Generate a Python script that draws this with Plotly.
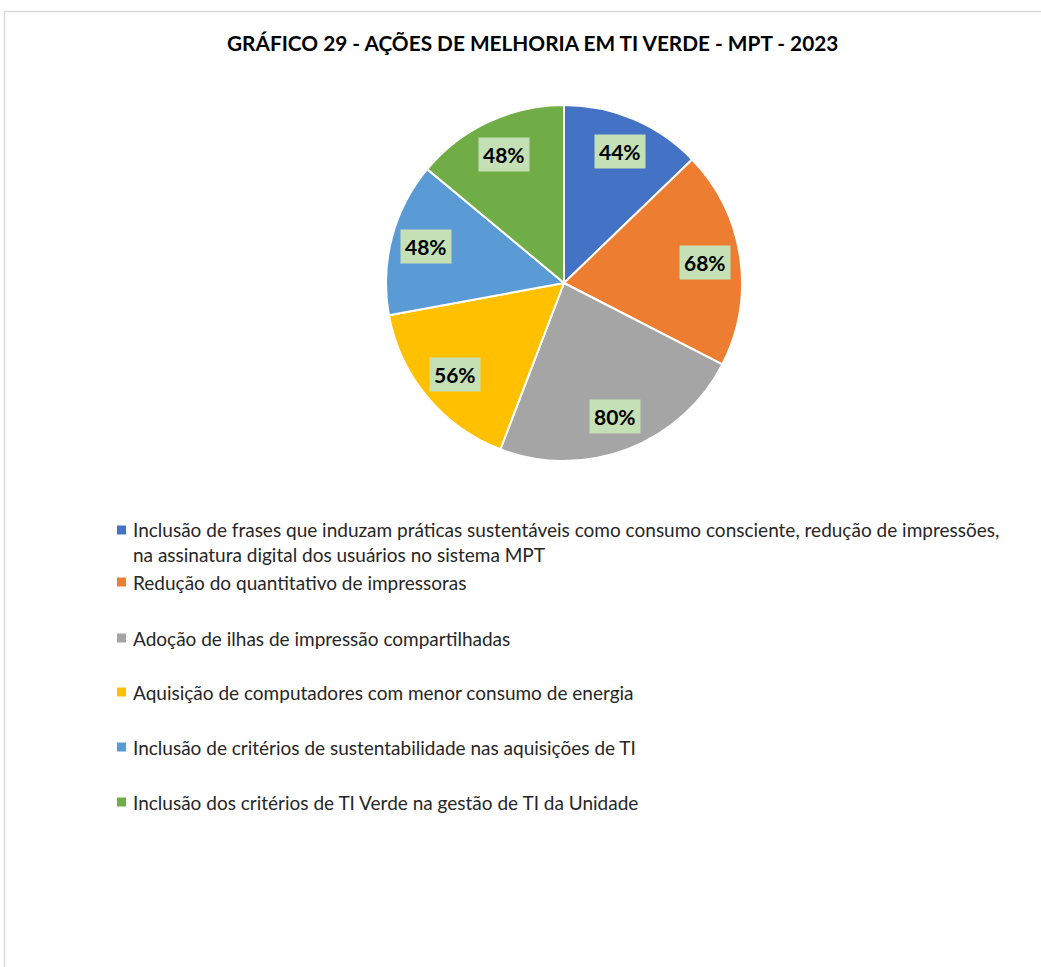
import math
import plotly.graph_objects as go

# Data
labels = [
    "Inclusão de frases que induzam práticas sustentáveis como consumo consciente, redução de impressões,<br>na assinatura digital dos usuários no sistema MPT",
    "Redução do quantitativo de impressoras",
    "Adoção de ilhas de impressão compartilhadas",
    "Aquisição de computadores com menor consumo de energia",
    "Inclusão de critérios de sustentabilidade nas aquisições de TI",
    "Inclusão dos critérios de TI Verde na gestão de TI da Unidade",
]
values = [44, 68, 80, 56, 48, 48]
colors = ["#4472C4", "#ED7D31", "#A5A5A5", "#FFC000", "#5B9BD5", "#70AD47"]
title = "GRÁFICO 29 - AÇÕES DE MELHORIA EM TI VERDE - MPT - 2023"

W, H = 1041, 967
FONT = "Lato"

# Pie geometry (pixels)
cx, cy, R = 564, 283, 178


def px(x):
    return x / W


def py(y):
    return 1 - y / H


fig = go.Figure()
fig.add_trace(go.Pie(
    labels=[l.replace("<br>", " ") for l in labels],
    values=values,
    sort=False,
    direction="clockwise",
    rotation=0,
    marker=dict(colors=colors, line=dict(color="white", width=2)),
    textinfo="none",
    hoverinfo="label+value",
    showlegend=False,
    domain=dict(x=[px(cx - R), px(cx + R)], y=[py(cy + R), py(cy - R)]),
))

annotations = []
shapes = []

# Value labels placed at the mid-angle of each slice
total = sum(values)
cum = 0
for v in values:
    mid = (cum + v / 2) / total * 2 * math.pi
    cum += v
    r = 0.8 * R
    x = cx + r * math.sin(mid)
    y = cy - r * math.cos(mid)
    annotations.append(dict(
        x=px(x), y=py(y), xref="paper", yref="paper",
        text=f"<b>{v}%</b>", showarrow=False,
        font=dict(family=FONT, size=21, color="black"),
        bgcolor="#C5E0B4", borderpad=4,
        xanchor="center", yanchor="middle",
    ))

# Legend rows
row_y = [542, 582, 638, 692, 747, 802]
marker_y = [530, 582, 638, 692, 747, 802]
for lab, col, ry, my in zip(labels, colors, row_y, marker_y):
    shapes.append(dict(
        type="rect", xref="paper", yref="paper",
        x0=px(117), x1=px(126), y0=py(my + 4.5), y1=py(my - 4.5),
        fillcolor=col, line=dict(width=0),
    ))
    annotations.append(dict(
        x=px(131), y=py(ry), xref="paper", yref="paper",
        text=lab, showarrow=False, align="left",
        font=dict(family=FONT, size=19, color="#262626"),
        xanchor="left", yanchor="middle",
    ))

# Title
annotations.append(dict(
    x=px(532), y=py(42), xref="paper", yref="paper",
    text=f"<b>{title}</b>", showarrow=False,
    font=dict(family=FONT, size=20.8, color="black"),
    xanchor="center", yanchor="middle",
))

# Chart frame
shapes.append(dict(
    type="rect", xref="paper", yref="paper",
    x0=px(4.5), x1=px(1060), y0=py(1000), y1=py(11.5),
    line=dict(color="#D9D9D9", width=1.5), fillcolor="rgba(0,0,0,0)",
))

fig.update_layout(
    width=W, height=H,
    margin=dict(l=0, r=0, t=0, b=0),
    paper_bgcolor="white",
    plot_bgcolor="white",
    annotations=annotations,
    shapes=shapes,
)

fig.write_html("out.html")
